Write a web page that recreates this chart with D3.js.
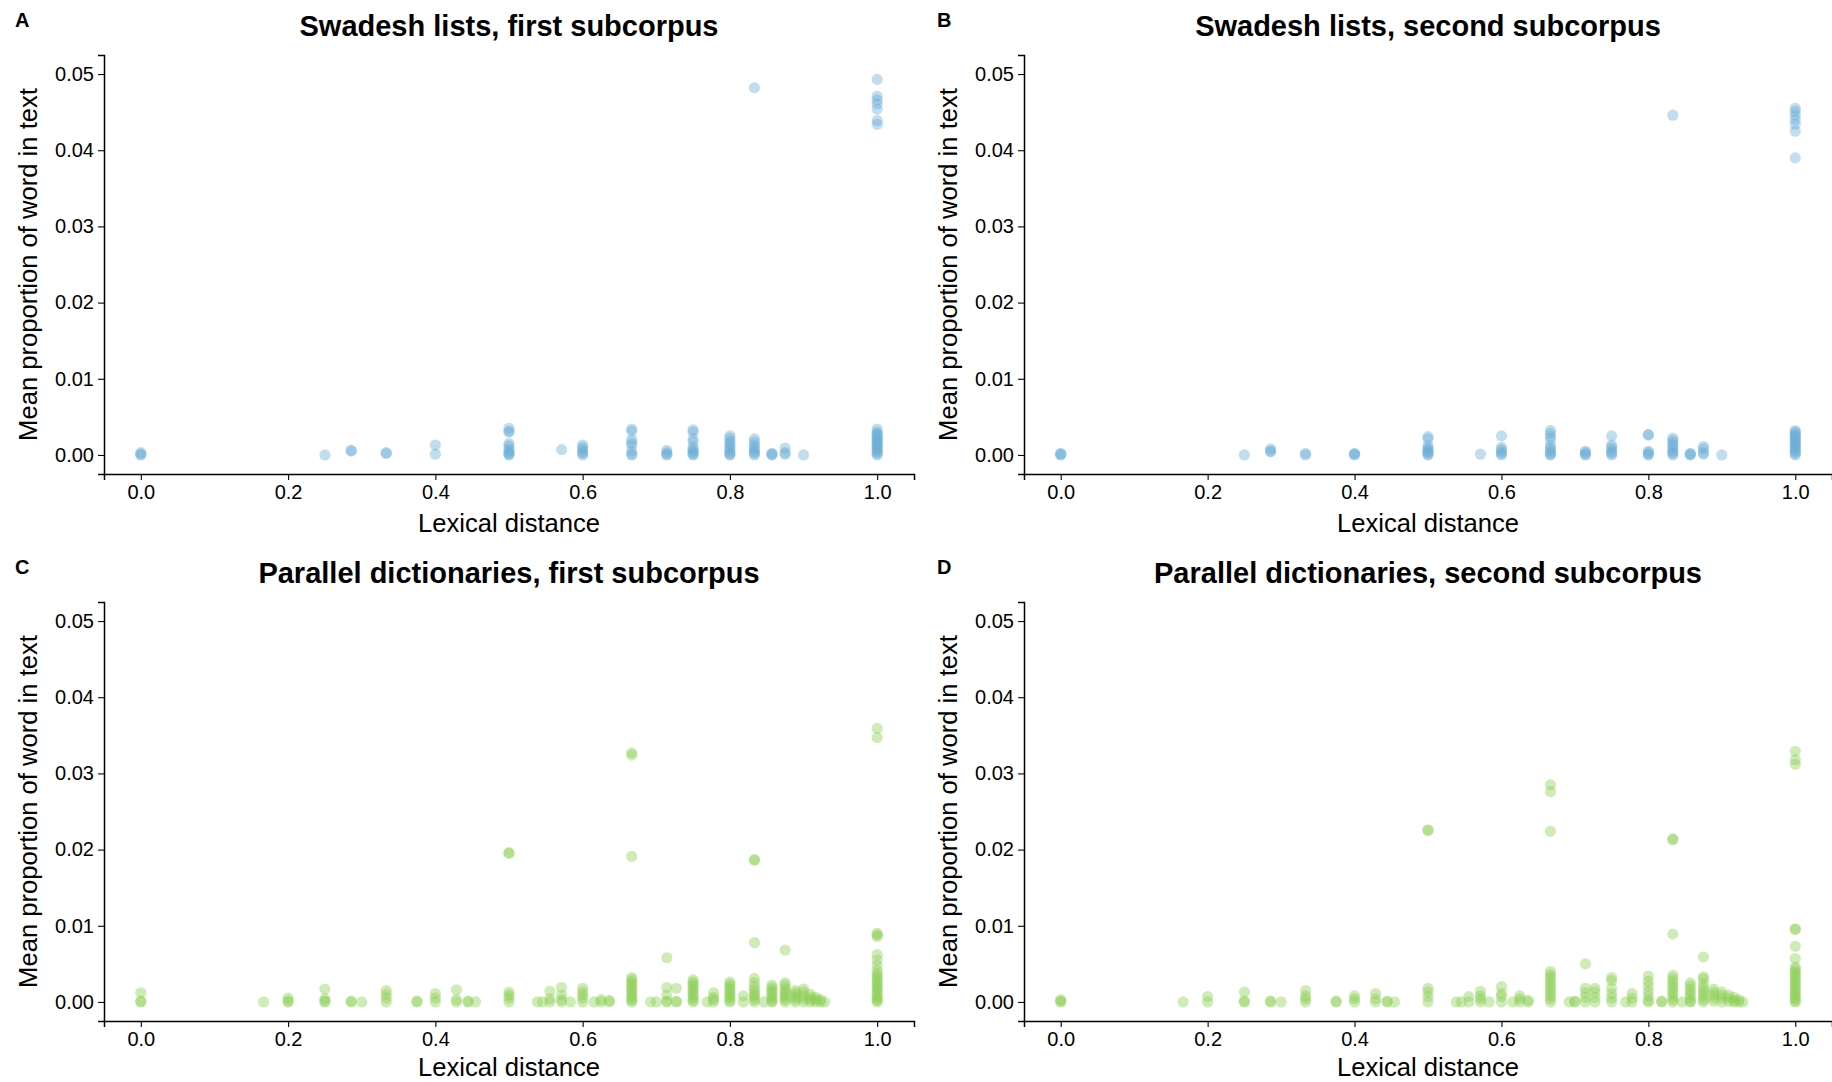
<!DOCTYPE html>
<html>
<head>
<meta charset="utf-8">
<script src="https://cdn.jsdelivr.net/npm/d3@7"></script>
<style>
  html, body { margin: 0; padding: 0; background: #fff; }
  svg { display: block; font-family: "Liberation Sans", Arial, sans-serif; }
</style>
</head>
<body>
<svg id="chart" width="1832" height="1082"></svg>
<script>
// Lexical distance (x) with the mean proportion of each word in text (y) at that distance.
const swadeshFirst = [
  [0, [0, 0.0001, 0.0003]],
  [0.25, [0]],
  [0.2857, [0.0005, 0.0006]],
  [0.3333, [0.0002, 0.0003]],
  [0.4, [0.0013, 0.0001]],
  [0.5, [0.0035, 0.0031, 0.0030, 0.0015, 0.0012, 0.0008, 0.0005, 0.0003, 0.0001, 0]],
  [0.5714, [0.0007]],
  [0.6, [0.0013, 0.0010, 0.0007, 0.0004, 0.0002, 0]],
  [0.6667, [0.0034, 0.0031, 0.0020, 0.0016, 0.0013, 0.0005, 0.0001, 0]],
  [0.7143, [0.0006, 0.0003, 0.0001, 0]],
  [0.75, [0.0033, 0.0030, 0.0021, 0.0017, 0.0010, 0.0007, 0.0005, 0.0003, 0.0001, 0]],
  [0.8, [0.0025, 0.0022, 0.0018, 0.0015, 0.0012, 0.0009, 0.0006, 0.0003, 0.0001, 0]],
  [0.8333, [0.0482, 0.0021, 0.0017, 0.0013, 0.0010, 0.0007, 0.0004, 0.0002, 0]],
  [0.8571, [0.0002, 0.0001, 0]],
  [0.875, [0.0009, 0.0003, 0.0001]],
  [0.9, [0]],
  [1, [0.0493, 0.0471, 0.0466, 0.0461, 0.0454, 0.0439, 0.0434,
       0.0034, 0.0030, 0.0028, 0.0026, 0.0024, 0.0022, 0.0020, 0.0018, 0.0016,
       0.0014, 0.0012, 0.0010, 0.0008, 0.0006, 0.0004, 0.0002, 0]]
];

const swadeshSecond = [
  [0, [0, 0.0001, 0.0002]],
  [0.25, [0]],
  [0.2857, [0.0008, 0.0005, 0.0004]],
  [0.3333, [0.0002, 0]],
  [0.4, [0.0002, 0.0001, 0]],
  [0.5, [0.0024, 0.0021, 0.0012, 0.0009, 0.0007, 0.0005, 0.0003, 0.0001, 0]],
  [0.5714, [0.0001]],
  [0.6, [0.0025, 0.0010, 0.0007, 0.0004, 0.0002, 0]],
  [0.6667, [0.0032, 0.0028, 0.0024, 0.0020, 0.0012, 0.0009, 0.0006, 0.0003, 0.0001, 0]],
  [0.7143, [0.0005, 0.0003, 0.0001, 0]],
  [0.75, [0.0025, 0.0013, 0.0010, 0.0007, 0.0004, 0.0002, 0]],
  [0.8, [0.0027, 0.0026, 0.0005, 0.0003, 0.0001, 0]],
  [0.8333, [0.0446, 0.0022, 0.0019, 0.0016, 0.0013, 0.0010, 0.0007, 0.0004, 0.0002, 0]],
  [0.8571, [0.0002, 0.0001, 0]],
  [0.875, [0.0011, 0.0008, 0.0003, 0.0001]],
  [0.9, [0]],
  [1, [0.0455, 0.0451, 0.0446, 0.0440, 0.0434, 0.0425, 0.0390,
       0.0032, 0.0030, 0.0028, 0.0026, 0.0024, 0.0022, 0.0020, 0.0018, 0.0016,
       0.0014, 0.0012, 0.0010, 0.0008, 0.0006, 0.0004, 0.0002, 0]]
];

const dictFirst = [
  [0, [0.0012, 0.0001, 0]],
  [0.1667, [0]],
  [0.2, [0.0005, 0.0001, 0]],
  [0.25, [0.0017, 0.0004, 0.0001, 0]],
  [0.2857, [0.0001, 0]],
  [0.3, [0]],
  [0.3333, [0.0015, 0.0010, 0.0005, 0]],
  [0.375, [0.0001, 0]],
  [0.4, [0.0011, 0.0005, 0]],
  [0.4286, [0.0016, 0.0003, 0]],
  [0.4444, [0.0001, 0]],
  [0.4545, [0]],
  [0.5, [0.0196, 0.0195, 0.0013, 0.0009, 0.0005, 0]],
  [0.5385, [0]],
  [0.5455, [0]],
  [0.5556, [0.0014, 0.0004, 0]],
  [0.5714, [0.0019, 0.0009, 0.0003, 0]],
  [0.5833, [0]],
  [0.6, [0.0018, 0.0013, 0.0009, 0.0005, 0]],
  [0.6154, [0]],
  [0.625, [0.0003, 0]],
  [0.6364, [0.0002, 0]],
  [0.6667, [0.0327, 0.0324, 0.0191, 0.0032, 0.0029, 0.0026, 0.0023, 0.0020, 0.0017,
            0.0014, 0.0011, 0.0008, 0.0005, 0.0002, 0]],
  [0.6923, [0]],
  [0.7, [0]],
  [0.7143, [0.0058, 0.0019, 0.0009, 0.0001, 0]],
  [0.7273, [0.0018, 0.0001, 0]],
  [0.75, [0.0029, 0.0026, 0.0023, 0.0020, 0.0017, 0.0014, 0.0011, 0.0008, 0.0005, 0.0002, 0]],
  [0.7692, [0]],
  [0.7778, [0.0012, 0.0006, 0.0003, 0]],
  [0.8, [0.0026, 0.0023, 0.0020, 0.0017, 0.0014, 0.0011, 0.0008, 0.0005, 0.0002, 0]],
  [0.8182, [0.0008, 0]],
  [0.8333, [0.0187, 0.0186, 0.0078, 0.0031, 0.0025, 0.0020, 0.0016, 0.0012, 0.0009,
            0.0006, 0.0003, 0]],
  [0.8462, [0]],
  [0.8571, [0.0022, 0.0019, 0.0016, 0.0013, 0.0010, 0.0007, 0.0004, 0.0001, 0]],
  [0.875, [0.0068, 0.0025, 0.0022, 0.0018, 0.0015, 0.0012, 0.0009, 0.0006, 0.0003, 0]],
  [0.8889, [0.0015, 0.0012, 0.0009, 0.0006, 0.0003, 0]],
  [0.9, [0.0017, 0.0013, 0.0008, 0.0004, 0]],
  [0.9091, [0.0010, 0.0006, 0.0003, 0]],
  [0.9167, [0.0006, 0.0003, 0]],
  [0.9231, [0.0003, 0]],
  [0.9286, [0]],
  [1, [0.0359, 0.0347, 0.0090, 0.0088, 0.0086, 0.0062, 0.0055, 0.0048, 0.0041, 0.0037,
       0.0034, 0.0031, 0.0028, 0.0025, 0.0022, 0.0019, 0.0016, 0.0013, 0.0010,
       0.0007, 0.0004, 0.0002, 0]]
];

const dictSecond = [
  [0, [0.0003, 0.0001, 0]],
  [0.1667, [0]],
  [0.2, [0.0007, 0]],
  [0.25, [0.0013, 0.0001, 0]],
  [0.2857, [0.0001, 0]],
  [0.3, [0]],
  [0.3333, [0.0015, 0.0008, 0.0004, 0]],
  [0.375, [0.0001, 0]],
  [0.4, [0.0008, 0.0004, 0]],
  [0.4286, [0.0011, 0.0004, 0]],
  [0.4444, [0.0001, 0]],
  [0.4545, [0]],
  [0.5, [0.0226, 0.0225, 0.0018, 0.0013, 0.0007, 0]],
  [0.5385, [0]],
  [0.5455, [0]],
  [0.5556, [0.0007, 0]],
  [0.5714, [0.0014, 0.0008, 0.0004, 0]],
  [0.5833, [0]],
  [0.6, [0.0020, 0.0011, 0.0007, 0]],
  [0.6154, [0]],
  [0.625, [0.0008, 0.0004, 0]],
  [0.6364, [0.0002, 0]],
  [0.6667, [0.0285, 0.0276, 0.0224, 0.0040, 0.0036, 0.0032, 0.0028, 0.0024, 0.0020,
            0.0016, 0.0012, 0.0008, 0.0004, 0]],
  [0.6923, [0]],
  [0.7, [0.0001, 0]],
  [0.7143, [0.0050, 0.0018, 0.0012, 0.0006, 0]],
  [0.7273, [0.0018, 0.0013, 0.0006, 0]],
  [0.75, [0.0032, 0.0028, 0.0018, 0.0011, 0.0005, 0]],
  [0.7692, [0]],
  [0.7778, [0.0011, 0.0005, 0]],
  [0.8, [0.0034, 0.0027, 0.0021, 0.0014, 0.0008, 0.0002, 0]],
  [0.8182, [0.0001, 0]],
  [0.8333, [0.0214, 0.0213, 0.0089, 0.0035, 0.0031, 0.0027, 0.0023, 0.0019, 0.0015,
            0.0011, 0.0007, 0.0003, 0]],
  [0.8462, [0]],
  [0.8571, [0.0025, 0.0021, 0.0017, 0.0013, 0.0009, 0.0005, 0.0001, 0]],
  [0.875, [0.0059, 0.0033, 0.0030, 0.0024, 0.0019, 0.0015, 0.0011, 0.0007, 0.0003, 0]],
  [0.8889, [0.0017, 0.0013, 0.0009, 0.0005, 0.0001]],
  [0.9, [0.0013, 0.0009, 0.0005, 0]],
  [0.9091, [0.0009, 0.0005, 0.0001]],
  [0.9167, [0.0006, 0.0002, 0]],
  [0.9231, [0.0003, 0]],
  [0.9286, [0]],
  [1, [0.0329, 0.0318, 0.0312, 0.0096, 0.0095, 0.0073, 0.0057, 0.0046, 0.0043, 0.0040,
       0.0037, 0.0034, 0.0031, 0.0028, 0.0025, 0.0022, 0.0019, 0.0016, 0.0013,
       0.0010, 0.0007, 0.0004, 0.0001, 0]]
];

const xTicks = [0, 0.2, 0.4, 0.6, 0.8, 1.0];
const yTicks = [0, 0.01, 0.02, 0.03, 0.04, 0.05];

const panelSpecs = [
  { tag: "A", title: "Swadesh lists, first subcorpus",          data: swadeshFirst,  color: "#6baed6", col: 0, row: 0 },
  { tag: "B", title: "Swadesh lists, second subcorpus",         data: swadeshSecond, color: "#6baed6", col: 1, row: 0 },
  { tag: "C", title: "Parallel dictionaries, first subcorpus",  data: dictFirst,     color: "#8ccf55", col: 0, row: 1 },
  { tag: "D", title: "Parallel dictionaries, second subcorpus", data: dictSecond,    color: "#8ccf55", col: 1, row: 1 }
];

// Panel frames: left/right edge of each column, top/bottom of each row's plotting area.
const colFrames = [{ left: 104, right: 914, tagX: 15 }, { left: 1024, right: 1832, tagX: 937 }];
const rowFrames = [
  { top: 55, bottom: 474, titleY: 36, tagY: 27, xTitleY: 532 },
  { top: 602, bottom: 1021, titleY: 583, tagY: 574, xTitleY: 1076 }
];

const svg = d3.select("#chart");

panelSpecs.forEach(p => {
  const cf = colFrames[p.col], rf = rowFrames[p.row];
  const x = d3.scaleLinear().domain([-0.05, 1.05]).range([cf.left, cf.right]);
  const y = d3.scaleLinear().domain([-0.0025, 0.0525]).range([rf.bottom, rf.top]);

  const g = svg.append("g");

  const pts = p.data.flatMap(([d, vs]) => vs.map(v => ({ d, v })));
  g.append("g").selectAll("circle").data(pts).join("circle")
    .attr("cx", o => x(o.d))
    .attr("cy", o => y(o.v))
    .attr("r", 5.6)
    .attr("fill", p.color)
    .attr("fill-opacity", 0.42);

  const xAxis = g.append("g")
    .attr("transform", `translate(0,${rf.bottom})`)
    .call(d3.axisBottom(x).tickValues(xTicks).tickFormat(d3.format(".1f")).tickSizeOuter(0).tickSize(6).tickPadding(5));
  const yAxis = g.append("g")
    .attr("transform", `translate(${cf.left},0)`)
    .call(d3.axisLeft(y).tickValues(yTicks).tickFormat(d3.format(".2f")).tickSizeOuter(0).tickSize(6).tickPadding(4));

  [xAxis, yAxis].forEach(a => {
    a.select(".domain").attr("stroke", "#000").attr("stroke-width", 1.5);
    a.selectAll(".tick line").attr("stroke", "#000").attr("stroke-width", 1.1);
    a.selectAll(".tick text").attr("fill", "#000").style("font-size", "20px")
      .style("font-family", "'Liberation Sans', Arial, sans-serif");
  });

  g.append("text")
    .attr("x", (cf.left + cf.right) / 2)
    .attr("y", rf.xTitleY)
    .attr("text-anchor", "middle")
    .style("font-size", "25.6px")
    .text("Lexical distance");

  g.append("text")
    .attr("transform", `translate(${cf.left - 67},${(rf.top + rf.bottom) / 2}) rotate(-90)`)
    .attr("text-anchor", "middle")
    .style("font-size", "25.6px")
    .text("Mean proportion of word in text");

  g.append("text")
    .attr("x", (cf.left + cf.right) / 2)
    .attr("y", rf.titleY)
    .attr("text-anchor", "middle")
    .style("font-size", "29px")
    .style("font-weight", "bold")
    .text(p.title);

  g.append("text")
    .attr("x", cf.tagX)
    .attr("y", rf.tagY)
    .style("font-size", "20px")
    .style("font-weight", "bold")
    .text(p.tag);
});
</script>
</body>
</html>
